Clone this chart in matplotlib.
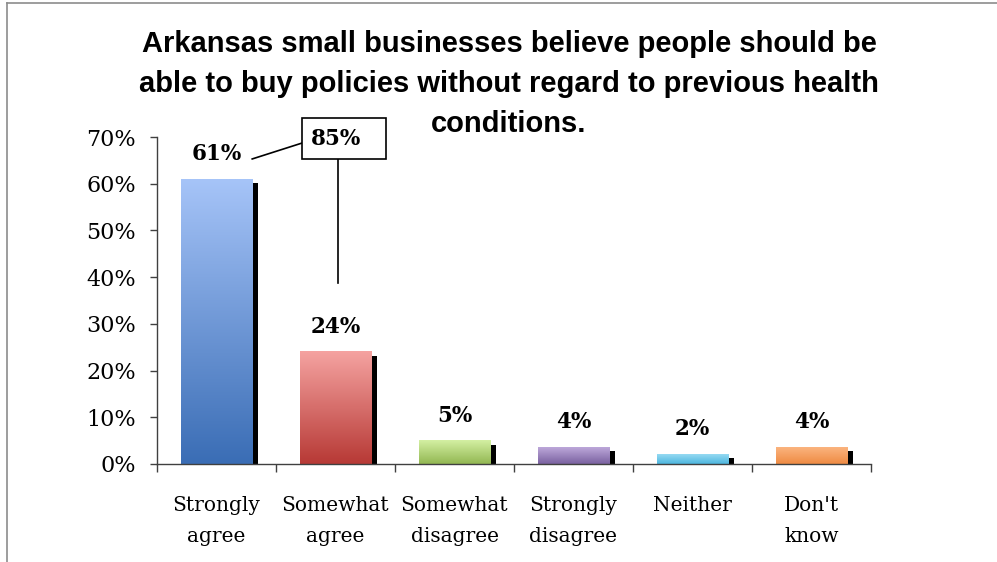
import matplotlib
matplotlib.use("Agg")
import matplotlib.pyplot as plt
import numpy as np
from matplotlib.patches import Rectangle
from matplotlib.colors import LinearSegmentedColormap
import matplotlib.transforms as mtransforms

categories = ["Strongly\nagree", "Somewhat\nagree", "Somewhat\ndisagree",
              "Strongly\ndisagree", "Neither", "Don't\nknow"]
values = [61, 24, 5, 3.6, 2.1, 3.6]
top_colors = ["#A6C4F8", "#F5A3A1", "#D4F0A3", "#BDA8DA", "#96DAF3", "#FBB47F"]
bottom_colors = ["#3A6DB5", "#B73935", "#92B752", "#7A61A0", "#4CB6DE", "#EF8B43"]
combined_label = "85%"
title = ("Arkansas small businesses believe people should be\n"
         "able to buy policies without regard to previous health\n"
         "conditions.")
yticks = [0, 10, 20, 30, 40, 50, 60, 70]

W, H = 997, 562
fig = plt.figure(figsize=(W / 100, H / 100), dpi=100)
ax = fig.add_axes([157 / W, 1 - 464 / H, (871 - 157) / W, (464 - 137) / H])

serif = ["DejaVu Serif"]
bar_w = 0.6
x = np.arange(len(categories))

shadow_tr = mtransforms.offset_copy(ax.transData, fig=fig, x=4.0, y=-3.0, units="points")
for i, v in enumerate(values):
    left = x[i] - bar_w / 2
    sh = Rectangle((left, 0), bar_w, v, facecolor="black", edgecolor="none",
                   transform=shadow_tr, zorder=1)
    ax.add_patch(sh)
    cmap = LinearSegmentedColormap.from_list("g", [bottom_colors[i], top_colors[i]])
    grad = np.linspace(0, 1, 256).reshape(-1, 1)
    ax.imshow(grad, extent=(left, left + bar_w, 0, v), origin="lower",
              aspect="auto", cmap=cmap, zorder=2, interpolation="bilinear")
    ax.text(x[i], v + 3.0, f"{v:.0f}%", ha="center", va="bottom",
            fontsize=15.5, fontweight="bold", family=serif, zorder=5)

ax.set_xlim(-0.5, len(categories) - 0.5)
ax.set_ylim(0, 70)
ax.set_yticks(yticks)
ax.set_yticklabels([f"{t}%" for t in yticks], family=serif, fontsize=16)
ax.set_xticks(np.arange(len(categories) + 1) - 0.5, minor=False)
ax.set_xticklabels([""] * (len(categories) + 1))
ax.set_xticks(x, minor=True)
ax.set_xticklabels(categories, minor=True, family=serif, fontsize=14.5, linespacing=1.8)
ax.tick_params(axis="x", which="minor", length=0, pad=23)
ax.tick_params(axis="x", which="major", length=6, direction="out", width=1, color="#404040")
ax.tick_params(axis="y", length=5, direction="out", pad=10, width=1, color="#404040")
for s in ["top", "right"]:
    ax.spines[s].set_visible(False)
for s in ["left", "bottom"]:
    ax.spines[s].set_color("#404040")
    ax.spines[s].set_linewidth(1)

# combined annotation box
ax.add_patch(Rectangle((0.718, 65.3), 0.706, 8.8, facecolor="white", edgecolor="black",
                       linewidth=1.2, clip_on=False, zorder=6))
ax.text(1.0, 69.6, combined_label, ha="center", va="center", fontsize=15.5,
        fontweight="bold", family=serif, zorder=7, clip_on=False)
ax.plot([0.30, 0.718], [65.3, 68.7], color="black", lw=1.2, clip_on=False, zorder=4)
ax.plot([1.02, 1.02], [65.3, 38.8], color="black", lw=1.2, clip_on=False, zorder=4)

fig.text(509 / W, 1 - 30 / H, title, ha="center", va="top", fontsize=21,
         fontweight="bold", family=["Liberation Sans"], linespacing=1.55)

# outer chart border (top and left visible)
fig.add_artist(plt.Line2D([7 / W, 1.0], [1 - 3 / H, 1 - 3 / H], color="#8C8C8C", lw=1.2))
fig.add_artist(plt.Line2D([7 / W, 7 / W], [0, 1 - 3 / H], color="#8C8C8C", lw=1.2))

fig.savefig("out.png", dpi=100)
